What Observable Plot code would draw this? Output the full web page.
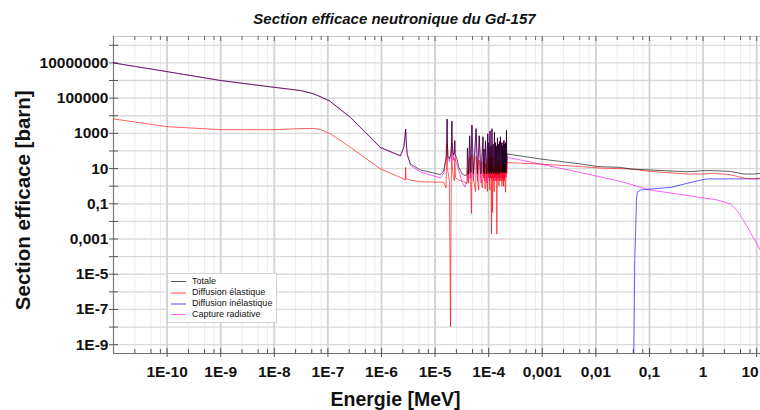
<!DOCTYPE html>
<html>
<head>
<meta charset="utf-8">
<script src="https://cdn.jsdelivr.net/npm/d3@7"></script>
<script src="https://cdn.jsdelivr.net/npm/@observablehq/plot@0.6"></script>
<style>
  html, body { margin: 0; padding: 0; background: #fff; overflow: hidden; }
  #wrap { position: relative; width: 760px; height: 410px; font-family: "Liberation Sans", Arial, sans-serif; color: #111; }
  #wrap svg { display: block; max-width: none; }
  .ttl { position: absolute; left: 0; width: 789px; top: 11px; text-align: center; font-weight: bold; font-style: italic; font-size: 15px; line-height: 1; }
  .xlab { position: absolute; left: 0; width: 791px; top: 390px; text-align: center; font-weight: bold; font-size: 19.5px; line-height: 1; }
  .ylab { position: absolute; left: -127px; top: 190px; width: 300px; height: 20.5px; text-align: center; font-weight: bold; font-size: 20.5px; line-height: 1; transform: rotate(-90deg); transform-origin: 50% 50%; }
  .legend { position: absolute; left: 167px; top: 273px; width: 110px; height: 50px; border: 1px solid #cfcfcf; background: #fff; padding-top: 1.5px; box-sizing: border-box; }
  .legend .row { position: relative; height: 11.3px; line-height: 11.3px; font-size: 9px; color: #111; padding-left: 24px; white-space: nowrap; }
  .legend .sw { position: absolute; left: 3px; top: 5px; width: 15px; }
</style>
</head>
<body>
<div id="wrap"></div>
<script>
// ---------- data (energy in MeV, cross section in barn) ----------
const totale = [
  [1e-11, 1.0e7], [1e-10, 3.2e6], [1e-9, 1.0e6], [1e-8, 4.1e5], [3.1e-8, 2.7e5], [5.5e-8, 1.74e5],
  [1.06e-7, 7.2e4], [2.64e-7, 8.1e3], [9.6e-7, 160], [2.26e-6, 54], [2.6e-6, 160], [2.72e-6, 480],
  [2.825e-6, 1780], [2.89e-6, 390], [3.01e-6, 68], [3.48e-6, 18], [5.35e-6, 8.3], [9.46e-6, 5.6],
  [1.26e-5, 4.5], [1.45e-5, 7.6], [1.6e-5, 40], [1.624e-5, 60], [1.65e-5, 200], [1.677e-5, 6600],
  [1.70e-5, 250], [1.74e-5, 55], [1.85e-5, 35], [1.97e-5, 60], [2.03e-5, 300], [2.056e-5, 5000],
  [2.09e-5, 250], [2.15e-5, 80], [2.2e-5, 60], [2.3e-5, 90], [2.333e-5, 400], [2.37e-5, 60],
  [2.54e-5, 40], [2.77e-5, 12], [3.2e-5, 4.9], [3.6e-5, 4.0], [3.95e-5, 4.5], [4.02e-5, 150],
  [4.25e-5, 5], [4.42e-5, 740], [4.65e-5, 6], [4.87e-5, 2950], [5.2e-5, 5], [5.83e-5, 1850],
  [6.2e-5, 5], [6.66e-5, 740], [7.2e-5, 5], [7.83e-5, 650], [8.0e-5, 6], [8.2e-5, 130],
  [8.45e-5, 5], [8.7e-5, 380], [9.2e-5, 5], [9.61e-5, 960], [9.8e-5, 6], [1.003e-4, 300],
  [1.03e-4, 5], [1.057e-4, 1400], [1.08e-4, 6], [1.10e-4, 200], [1.13e-4, 5], [1.152e-4, 1850],
  [1.18e-4, 6], [1.21e-4, 250], [1.25e-4, 5], [1.283e-4, 1150], [1.31e-4, 6], [1.34e-4, 300],
  [1.365e-4, 5], [1.39e-4, 200], [1.42e-4, 5], [1.46e-4, 570], [1.49e-4, 6], [1.52e-4, 250],
  [1.555e-4, 5], [1.59e-4, 350], [1.625e-4, 6], [1.66e-4, 650], [1.70e-4, 6], [1.74e-4, 300],
  [1.77e-4, 6], [1.80e-4, 200], [1.83e-4, 6], [1.865e-4, 310], [1.90e-4, 6], [1.93e-4, 400],
  [1.965e-4, 6], [2.0e-4, 250], [2.035e-4, 6], [2.07e-4, 300], [2.11e-4, 6], [2.15e-4, 1500],
  [2.17e-4, 20], [2.21e-4, 68], [9.25e-4, 35], [5.16e-3, 18.4], [1.06e-2, 13], [2.88e-2, 11.7],
  [4.42e-2, 9.5], [0.104, 8.3], [0.505, 6.6], [1.03, 7.6], [1.58, 7.6], [3.25, 6.9], [5.74, 4.9],
  [8.7, 4.9], [11.8, 5.4]
];

const elastique = [
  [1e-11, 6600], [1e-10, 2400], [1e-9, 1620], [1e-8, 1620], [3.1e-8, 1860], [5.5e-8, 1900],
  [7.3e-8, 1620], [1.12e-7, 930], [2.64e-7, 160], [9.6e-7, 9.5], [2.6e-6, 2.6], [2.78e-6, 2.2],
  [2.825e-6, 11.7], [2.87e-6, 2.6], [3.5e-6, 2.2], [5.35e-6, 1.8], [9.46e-6, 1.7], [1.45e-5, 1.7],
  [1.6e-5, 0.8], [1.677e-5, 260], [1.72e-5, 8], [1.85e-5, 2], [1.94e-5, 1.05e-8], [2.0e-5, 1],
  [2.056e-5, 300], [2.1e-5, 10], [2.2e-5, 3], [2.3e-5, 2], [2.333e-5, 40], [2.4e-5, 3],
  [2.8e-5, 2.2], [3.4e-5, 1.8], [3.95e-5, 1.4], [4.02e-5, 8], [4.2e-5, 1.5], [4.42e-5, 40],
  [4.6e-5, 2], [4.78e-5, 0.028], [4.87e-5, 60], [5.2e-5, 2.5], [5.7e-5, 0.5], [5.83e-5, 50],
  [6.2e-5, 2.5], [6.5e-5, 0.6], [6.66e-5, 30], [7.2e-5, 2.5], [7.7e-5, 0.8], [7.83e-5, 25],
  [8.0e-5, 3], [8.2e-5, 10], [8.45e-5, 2.5], [8.6e-5, 0.7], [8.7e-5, 20], [9.2e-5, 2.5],
  [9.5e-5, 0.5], [9.61e-5, 35], [9.8e-5, 3], [1.003e-4, 15], [1.03e-4, 2], [1.05e-4, 0.6],
  [1.057e-4, 45], [1.08e-4, 3], [1.10e-4, 12], [1.13e-4, 0.0019], [1.152e-4, 50], [1.18e-4, 0.032],
  [1.21e-4, 15], [1.25e-4, 2], [1.27e-4, 0.5], [1.283e-4, 40], [1.31e-4, 3], [1.34e-4, 15],
  [1.365e-4, 2], [1.39e-4, 12], [1.42e-4, 0.0019], [1.46e-4, 30], [1.49e-4, 3], [1.52e-4, 15],
  [1.555e-4, 1], [1.59e-4, 20], [1.625e-4, 2], [1.66e-4, 30], [1.70e-4, 2], [1.74e-4, 15],
  [1.77e-4, 1], [1.80e-4, 12], [1.83e-4, 2], [1.865e-4, 18], [1.90e-4, 1], [1.93e-4, 20],
  [1.965e-4, 2], [2.0e-4, 15], [2.035e-4, 1], [2.07e-4, 0.45], [2.1e-4, 3], [2.15e-4, 40],
  [2.18e-4, 5], [2.21e-4, 22], [9.25e-4, 18], [5.16e-3, 13], [1.2e-2, 10.7], [4.42e-2, 9.5],
  [0.104, 6.9], [0.505, 4.9], [1.03, 4.9], [1.58, 5.4], [3.25, 4.5], [5.74, 2.9], [8.7, 2.6],
  [11.8, 2.9]
];

const inelastique = [
  [0.0509, 1e-10], [0.0532, 5.9e-5], [0.0572, 0.15], [0.0590, 0.45], [0.0679, 0.60], [0.104, 0.69],
  [0.247, 0.85], [0.505, 1.45], [0.893, 2.2], [1.19, 2.6], [11.8, 2.6]
];

const capture = [
  [1e-11, 9.9e6], [1e-10, 3.2e6], [1e-9, 1.0e6], [1e-8, 4.1e5], [3.1e-8, 2.7e5], [5.5e-8, 1.72e5],
  [1.06e-7, 7.1e4], [2.64e-7, 7900], [9.6e-7, 150], [2.26e-6, 50], [2.6e-6, 155], [2.72e-6, 470],
  [2.825e-6, 1760], [2.89e-6, 380], [3.01e-6, 62], [3.48e-6, 15], [5.35e-6, 6.3], [9.46e-6, 3.8],
  [1.26e-5, 3.0], [1.45e-5, 5.5], [1.6e-5, 40], [1.677e-5, 6300], [1.72e-5, 40], [1.85e-5, 25],
  [2.0e-5, 100], [2.056e-5, 4700], [2.1e-5, 150], [2.2e-5, 30], [2.333e-5, 350], [2.4e-5, 30],
  [2.77e-5, 8], [3.2e-5, 1.6], [3.6e-5, 0.9], [3.95e-5, 2], [4.02e-5, 140], [4.25e-5, 2.5],
  [4.42e-5, 700], [4.65e-5, 3], [4.87e-5, 2900], [5.2e-5, 2], [5.83e-5, 1800], [6.2e-5, 2],
  [6.66e-5, 710], [7.2e-5, 1.5], [7.83e-5, 620], [8.0e-5, 4], [8.2e-5, 120], [8.45e-5, 2],
  [8.7e-5, 360], [9.2e-5, 1.5], [9.61e-5, 920], [9.8e-5, 4], [1.003e-4, 280], [1.03e-4, 2],
  [1.057e-4, 1350], [1.08e-4, 3], [1.10e-4, 190], [1.13e-4, 2.5], [1.152e-4, 1800], [1.18e-4, 3],
  [1.21e-4, 230], [1.25e-4, 2], [1.283e-4, 1100], [1.31e-4, 3], [1.34e-4, 280], [1.365e-4, 2],
  [1.39e-4, 190], [1.42e-4, 2], [1.46e-4, 540], [1.49e-4, 3], [1.52e-4, 230], [1.555e-4, 2],
  [1.59e-4, 330], [1.625e-4, 3], [1.66e-4, 620], [1.70e-4, 3], [1.74e-4, 280], [1.77e-4, 3],
  [1.80e-4, 190], [1.83e-4, 3], [1.865e-4, 290], [1.90e-4, 3], [1.93e-4, 380], [1.965e-4, 3],
  [2.0e-4, 230], [2.035e-4, 3], [2.07e-4, 280], [2.11e-4, 3], [2.15e-4, 1450], [2.18e-4, 10],
  [2.21e-4, 44], [9.25e-4, 18], [5.16e-3, 6.0], [2.88e-2, 1.86], [0.104, 0.60], [0.247, 0.41],
  [0.893, 0.23], [1.83, 0.166], [3.25, 0.098], [4.33, 0.041], [5.74, 0.011], [7.65, 2.35e-3],
  [10.2, 5.2e-4], [11.8, 2.2e-4]
];

const seriesNames = ["Totale", "Diffusion élastique", "Diffusion inélastique", "Capture radiative"];
const seriesColors = ["#000000", "#ff0000", "#0000ff", "#ff00ff"];
const legendColors = ["#555555", "#ffa0a0", "#a8a8ff", "#ff66ff"];

// ---------- axes ----------
const xTicks = [1e-10, 1e-9, 1e-8, 1e-7, 1e-6, 1e-5, 1e-4, 1e-3, 1e-2, 1e-1, 1, 10];
const xTickLabels = ["1E-10", "1E-9", "1E-8", "1E-7", "1E-6", "1E-5", "1E-4", "0,001", "0,01", "0,1", "1", "10"];
const xDecades = [1e-11, ...xTicks];
const minorMultipliers = [2.5, 5, 7.5];
const yDecades = [1e-9, 1e-8, 1e-7, 1e-6, 1e-5, 1e-4, 1e-3, 1e-2, 1e-1, 1, 10, 100, 1e3, 1e4, 1e5, 1e6, 1e7, 1e8];
const yTicks = [1e7, 1e5, 1e3, 10, 0.1, 1e-3, 1e-5, 1e-7, 1e-9];
const yTickLabels = ["10000000", "100000", "1000", "10", "0,1", "0,001", "1E-5", "1E-7", "1E-9"];

const xDomain = [1e-11, 11.8];
const yDomain = [3.16e-10, 3.16e8];
const xMinor = xDecades.flatMap(d => minorMultipliers.map(m => d * m)).filter(v => v < xDomain[1]);

const xLo = () => xDomain[0];
const yLo = () => yDomain[0];
const yHi = () => yDomain[1];

// the last x label sits at the right edge: anchor it at its end so it stays whole
const xLabelsInner = xTicks.slice(0, -1);
const xLabelEdge = xTicks.slice(-1);

const lineOpts = (i) => ({x: d => d[0], y: d => d[1], stroke: seriesColors[i], strokeWidth: 1, strokeOpacity: 0.62, clip: true});
const tickText = {frameAnchor: "bottom", lineAnchor: "top", dy: 12, fontSize: 15.5, fontWeight: "bold", fill: "#111"};

const chart = Plot.plot({
  width: 760,
  height: 410,
  marginLeft: 113,
  marginRight: 0,
  marginTop: 36,
  marginBottom: 57,
  style: {fontFamily: "'Liberation Sans', Arial, sans-serif", background: "#fff", color: "#111"},
  x: {type: "log", domain: xDomain, axis: null},
  y: {type: "log", domain: yDomain, axis: null},
  marks: [
    // grid
    Plot.ruleX(xMinor, {x: d => d, stroke: "#ececec", strokeWidth: 1}),
    Plot.ruleY(yDecades, {y: d => d, stroke: "#dadada", strokeWidth: 1.3}),
    Plot.ruleX(xTicks, {x: d => d, stroke: "#d2d2d2", strokeWidth: 1.8}),
    // frame
    Plot.ruleY([yDomain[1]], {y: d => d, stroke: "#c4c4c4", strokeWidth: 1}),
    Plot.ruleY([yDomain[0]], {y: d => d, stroke: "#6f6f6f", strokeWidth: 1.2}),
    Plot.ruleX([xDomain[0]], {x: d => d, stroke: "#7a7a7a", strokeWidth: 1.2}),
    // ticks
    Plot.ruleX(xMinor, {x: d => d, y1: yLo, y2: yLo, insetTop: 0, insetBottom: 4, stroke: "#555"}),
    Plot.ruleX(xTicks, {x: d => d, y1: yLo, y2: yLo, insetTop: 4, insetBottom: 5, stroke: "#555"}),
    Plot.ruleX(xMinor, {x: d => d, y1: yHi, y2: yHi, insetTop: 4, insetBottom: 0, stroke: "#666"}),
    Plot.ruleX(xTicks, {x: d => d, y1: yHi, y2: yHi, insetTop: 5, insetBottom: 0, stroke: "#666"}),
    Plot.ruleY(yDecades, {y: d => d, x1: xLo, x2: xLo, insetLeft: -4, insetRight: -5, stroke: "#555"}),
    // tick labels
    Plot.text(xLabelsInner, {x: d => d, text: (d, i) => xTickLabels[i], ...tickText}),
    Plot.text(xLabelEdge, {x: d => d, text: () => xTickLabels[xTickLabels.length - 1], textAnchor: "end", dx: 2, ...tickText}),
    Plot.text(yTicks, {y: d => d, text: (d, i) => yTickLabels[i], frameAnchor: "left", textAnchor: "end", dx: -5, fontSize: 15.5, fontWeight: "bold", fill: "#111"}),
    // data
    Plot.line(capture, lineOpts(3)),
    Plot.line(inelastique, lineOpts(2)),
    Plot.line(elastique, lineOpts(1)),
    Plot.line(totale, lineOpts(0))
  ]
});

const wrap = document.getElementById("wrap");
wrap.appendChild(chart);

const title = document.createElement("div");
title.className = "ttl";
title.textContent = "Section efficace neutronique du Gd-157";
wrap.appendChild(title);

const xlab = document.createElement("div");
xlab.className = "xlab";
xlab.textContent = "Energie [MeV]";
wrap.appendChild(xlab);

const ylab = document.createElement("div");
ylab.className = "ylab";
ylab.textContent = "Section efficace [barn]";
wrap.appendChild(ylab);

const legend = document.createElement("div");
legend.className = "legend";
const swWidths = [1, 2, 2, 1.5];
seriesNames.forEach((name, i) => {
  const row = document.createElement("div");
  row.className = "row";
  const sw = document.createElement("div");
  sw.className = "sw";
  sw.style.borderTop = swWidths[i] + "px solid " + legendColors[i];
  row.appendChild(sw);
  row.appendChild(document.createTextNode(name));
  legend.appendChild(row);
});
wrap.appendChild(legend);
</script>
</body>
</html>
